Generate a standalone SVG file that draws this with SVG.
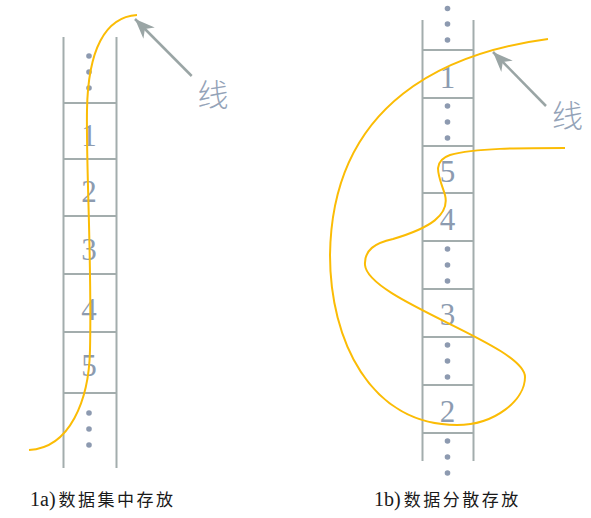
<svg xmlns="http://www.w3.org/2000/svg" width="591" height="518" viewBox="0 0 591 518">
<style>
.grid{stroke:#a3adad;stroke-width:2;fill:none}
.dot{fill:#8d9ab0}
.num{font-family:"Liberation Serif","DejaVu Serif",serif;font-size:31px;fill:#8c9bb0;text-anchor:middle}
.lbl{font-family:"Noto Sans CJK SC","Noto Sans",sans-serif;font-size:31px;font-weight:300;fill:#94a3b8;text-anchor:middle}
.cap{font-family:"Liberation Serif","Noto Sans CJK SC",serif;font-size:20px;fill:#1a1a1a}
.cjk{font-family:"Noto Sans CJK SC",sans-serif;font-size:17px;letter-spacing:2.5px}
.curve{stroke:#fbbc05;stroke-width:2;fill:none}
.arrow{stroke:#9aa5a5;stroke-width:2.5;fill:none;marker-end:url(#ah)}
</style>
<defs>
<marker id="ah" markerUnits="userSpaceOnUse" viewBox="0 -10 22 20" refX="20" refY="0" markerWidth="22" markerHeight="20" orient="auto">
<path d="M0,-8 L20,0 L0,8 L6,0 Z" fill="#9aa5a5"/>
</marker>
</defs>
<rect width="591" height="518" fill="#ffffff"/>
<g id="column-a">
<line class="grid" x1="63.5" y1="37" x2="63.5" y2="468"/>
<line class="grid" x1="116.5" y1="37" x2="116.5" y2="468"/>
<line class="grid" x1="63.5" y1="103" x2="116.5" y2="103"/>
<line class="grid" x1="63.5" y1="159" x2="116.5" y2="159"/>
<line class="grid" x1="63.5" y1="216" x2="116.5" y2="216"/>
<line class="grid" x1="63.5" y1="274" x2="116.5" y2="274"/>
<line class="grid" x1="63.5" y1="332" x2="116.5" y2="332"/>
<line class="grid" x1="63.5" y1="393" x2="116.5" y2="393"/>
<circle class="dot" cx="89" cy="56" r="2.8"/>
<circle class="dot" cx="89" cy="72" r="2.8"/>
<circle class="dot" cx="89" cy="88" r="2.8"/>
<text class="num" x="89" y="146">1</text>
<text class="num" x="89" y="202">2</text>
<text class="num" x="89" y="260">3</text>
<text class="num" x="89" y="320">4</text>
<text class="num" x="89" y="376">5</text>
<circle class="dot" cx="89" cy="413" r="2.8"/>
<circle class="dot" cx="89" cy="429" r="2.8"/>
<circle class="dot" cx="89" cy="445" r="2.8"/>
</g>
<g id="column-b">
<line class="grid" x1="422.5" y1="20" x2="422.5" y2="461"/>
<line class="grid" x1="473.5" y1="20" x2="473.5" y2="461"/>
<line class="grid" x1="422.5" y1="50" x2="473.5" y2="50"/>
<line class="grid" x1="422.5" y1="98" x2="473.5" y2="98"/>
<line class="grid" x1="422.5" y1="146" x2="473.5" y2="146"/>
<line class="grid" x1="422.5" y1="193" x2="473.5" y2="193"/>
<line class="grid" x1="422.5" y1="241" x2="473.5" y2="241"/>
<line class="grid" x1="422.5" y1="289" x2="473.5" y2="289"/>
<line class="grid" x1="422.5" y1="337" x2="473.5" y2="337"/>
<line class="grid" x1="422.5" y1="385" x2="473.5" y2="385"/>
<line class="grid" x1="422.5" y1="433" x2="473.5" y2="433"/>
<circle class="dot" cx="447.5" cy="8.5" r="2.8"/>
<circle class="dot" cx="447.5" cy="24" r="2.8"/>
<circle class="dot" cx="447.5" cy="40" r="2.8"/>
<text class="num" x="447.5" y="88">1</text>
<circle class="dot" cx="447.5" cy="106" r="2.8"/>
<circle class="dot" cx="447.5" cy="122" r="2.8"/>
<circle class="dot" cx="447.5" cy="138" r="2.8"/>
<text class="num" x="447.5" y="182">5</text>
<text class="num" x="447.5" y="230">4</text>
<circle class="dot" cx="447.5" cy="249" r="2.8"/>
<circle class="dot" cx="447.5" cy="265" r="2.8"/>
<circle class="dot" cx="447.5" cy="281" r="2.8"/>
<text class="num" x="447.5" y="325">3</text>
<circle class="dot" cx="447.5" cy="345" r="2.8"/>
<circle class="dot" cx="447.5" cy="361" r="2.8"/>
<circle class="dot" cx="447.5" cy="377" r="2.8"/>
<text class="num" x="447.5" y="422">2</text>
<circle class="dot" cx="447.5" cy="441" r="2.8"/>
<circle class="dot" cx="447.5" cy="457" r="2.8"/>
<circle class="dot" cx="447.5" cy="473" r="2.8"/>
</g>
<g id="connectors">
<path class="curve" d="M137,15 C105,17 88,50 87,110 C86,170 92,260 90,350 C89,400 70,448 29,450"/>
<path class="curve" d="M548,39 C450,52 332,100 330,255 C330,340 370,425 457,425 C495,425 525,400 525,377 C525,345 368,300 365,265 C364,250 375,243 393,239 C430,228 450,215 445,195 C440,178 430,162 450,155 C475,148 520,148 565,148"/>
<line class="arrow" x1="191.7" y1="76" x2="135" y2="19"/>
<line class="arrow" x1="546" y1="106" x2="493" y2="52"/>
</g>
<g id="labels">
<text class="lbl" x="213" y="106">线</text>
<text class="lbl" x="567.5" y="127">线</text>
<text class="cap" x="30" y="506">1a)<tspan class="cjk" dx="3">数据集中存放</tspan></text>
<text class="cap" x="374" y="506">1b)<tspan class="cjk" dx="3">数据分散存放</tspan></text>
</g>
</svg>
